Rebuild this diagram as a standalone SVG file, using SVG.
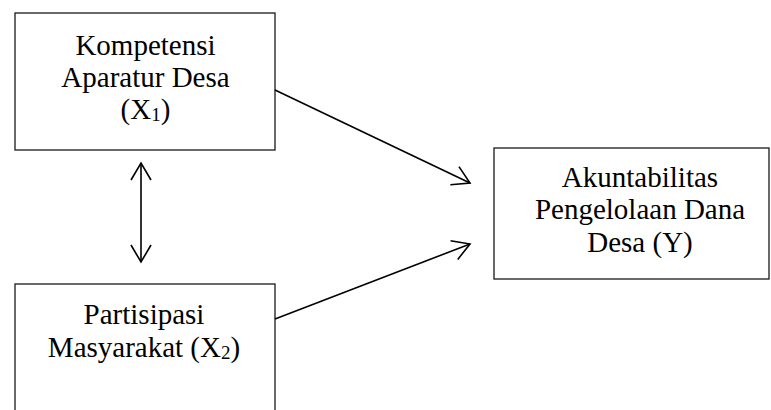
<svg xmlns="http://www.w3.org/2000/svg" width="771" height="410" viewBox="0 0 771 410">
  <style>
    .box { fill: #ffffff; stroke: #1a1a1a; stroke-width: 1.3; }
    .lbl { font-family: "Liberation Serif", "Times New Roman", serif; font-size: 29px; fill: #000000; text-anchor: middle; }
    .sub { font-size: 19px; }
    .conn { stroke: #000000; stroke-width: 1.6; fill: none; }
  </style>
  <defs>
    <marker id="arr" markerUnits="userSpaceOnUse" markerWidth="40" markerHeight="40" refX="0" refY="0" viewBox="-20 -20 40 40" orient="auto-start-reverse" overflow="visible">
      <path d="M-17,-10 L0,0 L-17,10" fill="none" stroke="#000000" stroke-width="1.6"/>
    </marker>
  </defs>
  <rect width="771" height="410" fill="#ffffff"/>
  <g id="node-x1">
    <rect class="box" x="15" y="13" width="260" height="137"/>
    <text class="lbl" x="145.5" y="55">Kompetensi</text>
    <text class="lbl" x="145.5" y="87">Aparatur Desa</text>
    <text class="lbl" x="145.5" y="119">(X<tspan class="sub" dy="2">1</tspan><tspan dy="-2">)</tspan></text>
  </g>
  <g id="node-x2">
    <rect class="box" x="15" y="284" width="260" height="140"/>
    <text class="lbl" x="144" y="324">Partisipasi</text>
    <text class="lbl" x="144" y="357">Masyarakat (X<tspan class="sub" dy="2">2</tspan><tspan dy="-2">)</tspan></text>
  </g>
  <g id="node-y">
    <rect class="box" x="494" y="148" width="275" height="131"/>
    <text class="lbl" x="640" y="187">Akuntabilitas</text>
    <text class="lbl" x="640" y="219">Pengelolaan Dana</text>
    <text class="lbl" x="640" y="252">Desa (Y)</text>
  </g>
  <g id="connectors">
    <line class="conn" x1="275" y1="90" x2="470" y2="183" marker-end="url(#arr)"/>
    <line class="conn" x1="275" y1="319" x2="470" y2="244" marker-end="url(#arr)"/>
    <line class="conn" x1="141" y1="163" x2="141" y2="262" marker-start="url(#arr)" marker-end="url(#arr)"/>
  </g>
</svg>
